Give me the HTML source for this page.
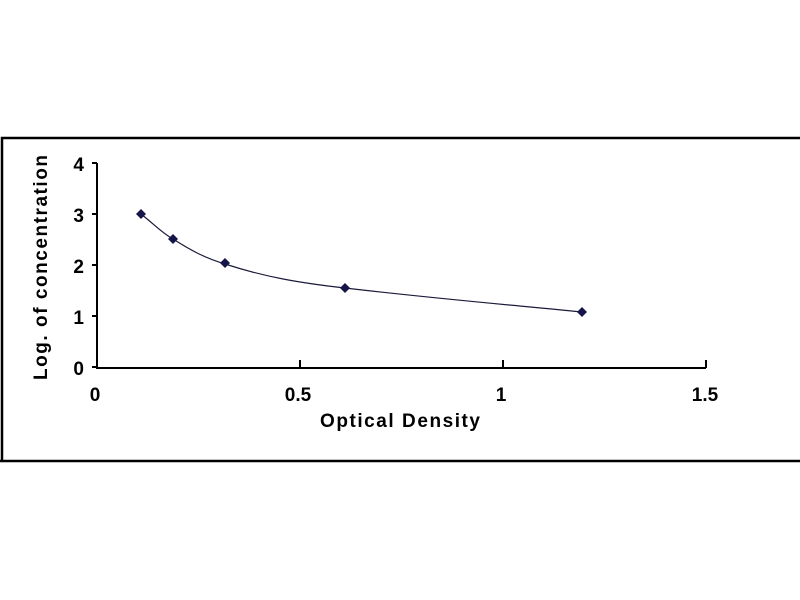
<!DOCTYPE html>
<html><head><style>body{margin:0;background:#fff}svg{display:block}</style></head><body>
<svg width="800" height="600" xmlns="http://www.w3.org/2000/svg" font-family="Liberation Sans, sans-serif" font-weight="bold">
<rect x="0" y="0" width="800" height="600" fill="#fff"/>
<path d="M2 461 V138 H802" fill="none" stroke="#000" stroke-width="2.5"/>
<line x1="0" y1="461" x2="800" y2="461" stroke="#000" stroke-width="2.5"/>
<g stroke="#000" stroke-width="2" fill="none">
<path d="M97 163 V368 H706"/>
<path d="M92 163H97M92 214H97M92 265H97M92 316H97M92 367H97"/>
<path d="M300 360V368M503 360V368M706 360V368"/>
</g>
<g font-size="19" text-anchor="end" fill="#000">
<text x="84" y="171">4</text><text x="84" y="222">3</text><text x="84" y="273">2</text><text x="84" y="324">1</text><text x="84" y="375">0</text>
</g>
<g font-size="19" text-anchor="middle" fill="#000">
<text x="95" y="401">0</text><text x="298" y="401">0.5</text><text x="501" y="401">1</text><text x="705" y="401">1.5</text>
</g>
<text x="320" y="427" font-size="19" textLength="160" lengthAdjust="spacing">Optical Density</text>
<text transform="translate(47,380) rotate(-90)" font-size="19" textLength="225" lengthAdjust="spacing">Log. of concentration</text>
<path d="M141 214 C155 225 162 233 173 239 C192 251 205 258 225 264 C265 277 300 283 345 288 C430 298 500 304 582 312" fill="none" stroke="#1a1a3a" stroke-width="1.2"/>
<g fill="#15154a">
<path d="M141 209l5 5-5 5-5-5z"/><path d="M173 234l5 5-5 5-5-5z"/><path d="M225 258l5 5-5 5-5-5z"/><path d="M345 283l5 5-5 5-5-5z"/><path d="M582 307l5 5-5 5-5-5z"/>
</g>
</svg>
</body></html>
